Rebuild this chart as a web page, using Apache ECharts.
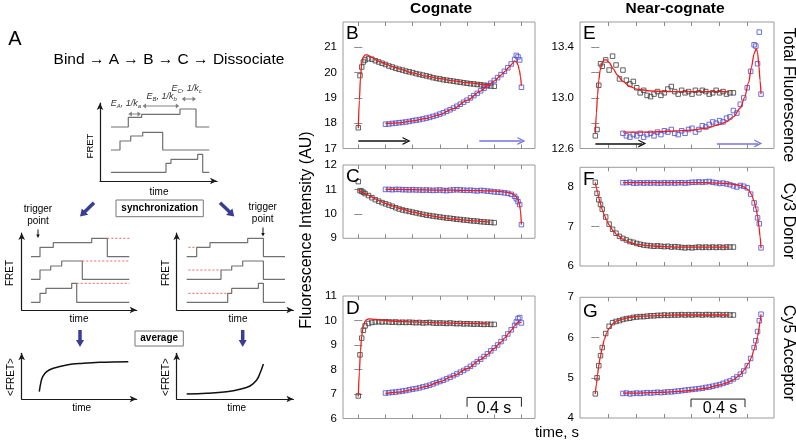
<!DOCTYPE html>
<html><head><meta charset="utf-8">
<script src="https://cdn.jsdelivr.net/npm/echarts@6/dist/echarts.min.js"></script>
<style>html,body{margin:0;padding:0;background:#fff}#c{width:796px;height:448px}</style>
</head><body><div id="c"></div>
<script>
// ---------- time bases (s) ----------
const tBlack = [0,0.0125,0.025,0.0375,0.05,0.075,0.1,0.125,0.15,0.175,0.2,0.225,0.25,0.275,0.3,0.325,0.35,0.375,0.4,0.425,0.45,0.475,0.5,0.525,0.55,0.575,0.6,0.625,0.65,0.675,0.7,0.725,0.75,0.775,0.8,0.825,0.85,0.875,0.9,0.925,0.95,0.975,1.0];
const tBlue = [0.2,0.225,0.25,0.275,0.3,0.325,0.35,0.375,0.4,0.425,0.45,0.475,0.5,0.525,0.55,0.575,0.6,0.625,0.65,0.675,0.7,0.725,0.75,0.775,0.8,0.825,0.85,0.875,0.9,0.925,0.95,0.975,1.0,1.025,1.05,1.075,1.1,1.125,1.15,1.1625,1.175,1.1875,1.2];
const fitTBlack = [0,0.008,0.016,0.025,0.035,0.05,0.065,0.08,0.1,0.13,0.16,0.2,0.25,0.3,0.4,0.5,0.6,0.7,0.8,0.9,0.97];
const fitTBlue = [0.2,0.3,0.4,0.5,0.6,0.7,0.8,0.9,0.95,1.0,1.05,1.08,1.11,1.13,1.15,1.165,1.175,1.185,1.193,1.2];

// ---------- B: cognate total fluorescence ----------
const bBlack = [17.82,19.88,20.22,20.42,20.50,20.55,20.53,20.47,20.42,20.37,20.32,20.26,20.22,20.17,20.13,20.10,20.06,20.03,20.00,19.96,19.93,19.90,19.87,19.84,19.80,19.77,19.75,19.72,19.70,19.68,19.66,19.64,19.62,19.60,19.58,19.56,19.55,19.53,19.52,19.50,19.49,19.47,19.46];
const bBlue = [17.96,17.97,17.99,18.00,18.02,18.03,18.05,18.07,18.10,18.12,18.14,18.17,18.20,18.23,18.27,18.31,18.36,18.41,18.47,18.53,18.60,18.67,18.75,18.83,18.91,19.00,19.09,19.18,19.28,19.38,19.48,19.58,19.69,19.80,19.92,20.05,20.19,20.34,20.52,20.68,20.62,20.50,19.42];
const bFitBlack = [17.8,18.9,19.8,20.35,20.6,20.7,20.7,20.66,20.6,20.5,20.43,20.34,20.24,20.15,19.99,19.86,19.76,19.67,19.6,19.54,19.51];
const bFitBlue = [17.98,18.01,18.09,18.19,18.34,18.58,18.9,19.27,19.47,19.67,19.9,20.05,20.22,20.34,20.46,20.42,20.3,20.1,19.85,19.48];
// ---------- C: cognate Cy3 donor ----------
const cBlack = [11.32,10.95,10.93,10.88,10.83,10.75,10.66,10.58,10.52,10.46,10.41,10.36,10.31,10.25,10.20,10.16,10.13,10.10,10.07,10.04,10.01,9.98,9.95,9.93,9.91,9.89,9.87,9.85,9.83,9.82,9.80,9.78,9.77,9.75,9.74,9.72,9.71,9.70,9.68,9.67,9.66,9.65,9.64];
const cBlue = [11.00,11.00,10.99,11.00,11.00,10.99,10.99,10.98,10.99,10.98,10.98,10.97,10.98,10.97,10.96,10.97,10.98,10.96,10.95,10.97,10.98,10.99,10.98,10.97,10.96,10.97,10.95,10.94,10.96,10.95,10.93,10.92,10.90,10.89,10.88,10.86,10.84,10.80,10.72,10.62,10.50,10.38,9.56];
const cFitBlack = [10.97,10.94,10.92,10.9,10.87,10.83,10.79,10.75,10.69,10.6,10.52,10.43,10.33,10.23,10.07,9.95,9.86,9.79,9.73,9.69,9.66];
const cFitBlue = [11.0,11.0,10.99,10.98,10.97,10.97,10.96,10.95,10.94,10.93,10.91,10.89,10.86,10.83,10.77,10.68,10.57,10.4,10.15,9.56];
// ---------- D: cognate Cy5 acceptor ----------
const dBlack = [6.92,8.60,9.28,9.60,9.78,9.88,9.92,9.94,9.95,9.94,9.95,9.94,9.93,9.94,9.92,9.93,9.92,9.93,9.92,9.91,9.92,9.90,9.91,9.92,9.90,9.89,9.90,9.89,9.88,9.90,9.88,9.87,9.88,9.86,9.87,9.86,9.85,9.86,9.85,9.84,9.85,9.84,9.84];
const dBlue = [7.04,7.05,7.07,7.08,7.10,7.12,7.14,7.17,7.20,7.22,7.25,7.29,7.32,7.36,7.41,7.46,7.51,7.56,7.62,7.68,7.75,7.82,7.89,7.96,8.04,8.13,8.22,8.32,8.42,8.53,8.64,8.76,8.88,9.00,9.14,9.29,9.45,9.62,9.80,9.94,10.08,10.12,9.90];
const dFitBlack = [6.9,7.9,8.75,9.35,9.72,9.97,10.05,10.07,10.06,10.04,10.02,10.0,9.98,9.96,9.94,9.92,9.9,9.89,9.88,9.87,9.86];
const dFitBlue = [7.02,7.08,7.18,7.31,7.5,7.74,8.03,8.4,8.62,8.86,9.12,9.3,9.5,9.63,9.78,9.88,9.93,9.94,9.92,9.9];
// ---------- E: near-cognate total fluorescence ----------
const eBlack = [12.70,12.75,13.10,13.27,13.25,13.30,13.22,13.33,13.26,13.15,13.22,13.14,13.11,13.13,13.08,13.04,13.06,13.02,13.01,13.03,13.05,13.02,13.04,13.07,13.09,13.05,13.03,13.06,13.04,13.05,13.03,13.06,13.04,13.06,13.05,13.03,13.04,13.06,13.04,13.05,13.03,13.04,13.04];
const eBlue = [12.72,12.70,12.69,12.71,12.70,12.72,12.69,12.71,12.72,12.70,12.73,12.71,12.74,12.73,12.75,12.72,12.71,12.74,12.72,12.75,12.76,12.73,12.75,12.78,12.77,12.79,12.81,12.80,12.82,12.81,12.84,12.85,12.90,12.88,12.95,13.00,13.08,13.21,13.42,13.41,13.27,13.52,13.03];
const eFitBlack = [12.72,12.88,13.02,13.14,13.22,13.28,13.3,13.3,13.28,13.23,13.18,13.13,13.09,13.07,13.055,13.05,13.05,13.05,13.05,13.05,13.05];
const eFitBlue = [12.73,12.73,12.73,12.735,12.74,12.745,12.76,12.79,12.81,12.85,12.92,13.0,13.12,13.24,13.35,13.39,13.36,13.25,13.14,13.03];
// ---------- F: near-cognate Cy3 donor ----------
const fBlack = [8.12,7.84,7.68,7.56,7.44,7.24,7.06,6.93,6.83,6.75,6.70,6.66,6.62,6.60,6.57,6.55,6.53,6.52,6.51,6.50,6.51,6.50,6.49,6.50,6.48,6.49,6.48,6.47,6.46,6.47,6.46,6.47,6.48,6.47,6.48,6.47,6.48,6.47,6.48,6.47,6.48,6.48,6.48];
const fBlue = [8.11,8.11,8.12,8.10,8.10,8.11,8.10,8.11,8.10,8.11,8.10,8.10,8.11,8.10,8.11,8.10,8.11,8.11,8.10,8.11,8.12,8.12,8.13,8.12,8.13,8.14,8.12,8.11,8.09,8.10,8.08,8.06,8.03,8.00,8.04,8.02,7.98,7.82,7.60,7.44,7.22,7.07,6.46];
const fFitBlack = [8.12,7.98,7.86,7.73,7.6,7.43,7.29,7.17,7.04,6.89,6.78,6.68,6.6,6.55,6.51,6.49,6.48,6.48,6.48,6.48,6.48];
const fFitBlue = [8.11,8.11,8.11,8.11,8.11,8.11,8.11,8.1,8.09,8.07,8.04,8.0,7.92,7.82,7.64,7.44,7.26,7.0,6.75,6.45];
// ---------- G: near-cognate Cy5 acceptor ----------
const gBlack = [4.60,5.00,5.30,5.55,5.75,6.10,6.28,6.37,6.40,6.42,6.45,6.47,6.48,6.50,6.51,6.52,6.52,6.53,6.54,6.54,6.55,6.55,6.56,6.55,6.56,6.56,6.56,6.57,6.56,6.57,6.56,6.57,6.57,6.56,6.57,6.57,6.56,6.57,6.57,6.56,6.57,6.56,6.56];
const gBlue = [4.61,4.62,4.60,4.61,4.62,4.61,4.62,4.63,4.62,4.63,4.64,4.63,4.64,4.65,4.65,4.66,4.67,4.68,4.69,4.70,4.71,4.72,4.73,4.74,4.76,4.77,4.79,4.81,4.83,4.86,4.89,4.92,4.97,5.02,5.09,5.17,5.30,5.48,5.75,5.92,6.15,6.42,6.58];
const gFitBlack = [4.6,4.85,5.08,5.3,5.5,5.75,5.95,6.1,6.23,6.35,6.42,6.46,6.5,6.52,6.54,6.55,6.56,6.56,6.56,6.56,6.56];
const gFitBlue = [4.62,4.62,4.63,4.64,4.66,4.69,4.74,4.82,4.87,4.95,5.08,5.2,5.36,5.5,5.7,5.88,6.03,6.22,6.4,6.58];

// ---------- tick values ----------
const cogTicks = [0,0.2,0.4,0.6,0.8,1.0,1.2];
const nearTicks = [0.097,0.297,0.497,0.697,0.897,1.097];
const bYLabels = [17,18,19,20,21], cYLabels = [9,10,11,12], dYLabels = [6,7,8,9,10,11];
const eYLabels = [12.6,13.0,13.4], fYLabels = [6,7,8], gYLabels = [4,5,6,7];

// ---------- schematic (panel A) traces, in schematic units ----------
const s0T1x=[11,28.3,28.3,41.7,41.7,80,80,96,96,109.3], s0T1y=[54,54,63.7,63.7,66.7,66.7,72,72,54,54];
const s0T2x=[11,20,20,30.7,30.7,42.7,42.7,62.7,62.7,109.3], s0T2y=[31,31,40,40,45,45,48.7,48.7,31,31];
const s0T3x=[11,66,66,71,71,97.7,97.7,102.7,102.7,109.3], s0T3y=[8.7,8.7,17.7,17.7,21.7,21.7,26.7,26.7,8.7,8.7];
const lvl1=[53.3,53.3,62.7,62.7,67.3,67.3,71.7,71.7,53.3,53.3];
const lvl2=[30.7,30.7,40,40,44,44,49,49,30.7,30.7];
const lvl3=[7.7,7.7,16.7,16.7,21.7,21.7,26.7,26.7,7.7,7.7];
const s1T1x=[9.3,18.3,18.3,31.6,31.6,70,70,85.6,85.6,107.6];
const s1T2x=[9.3,18.3,18.3,29,29,40,40,60.6,60.6,107.6];
const s1T3x=[9.3,18.3,18.3,24.3,24.3,50,50,55,55,107.6];
const s1Red=[[[85.6,71.7],[107.6,71.7]],[[60.6,49],[107.6,49]],[[55,26.7],[107.6,26.7]]];
const s2T1x=[10,20,20,33.3,33.3,71,71,86.7,86.7,108.3];
const s2T2x=[10,44.3,44.3,55,55,66,66,86.7,86.7,108.3];
const s2T3x=[10,51,51,55,55,81.7,81.7,86.7,86.7,108.3];
const s2Red=[[[11.7,62.7],[20,62.7]],[[11.7,40],[44.3,40]],[[11.7,16.7],[51,16.7]]];
const avgRiseX=[17.6,19,21,25,31.6,45,61.6,78.3,106.6], avgRiseY=[7.3,15.7,22.3,27.3,30.7,34,35.7,36.7,37.3];
const avgEndX=[10,30,50,63.3,73.3,80,83.3,86.7], avgEndY=[5,5.7,7.3,9.7,13,19,25.7,35];

// ================= build =================
const FONT = '"Liberation Sans", Arial, Helvetica, sans-serif';
const pair = (xs, ys) => xs.map((x, i) => [x, ys[i]]);
const chev = 'path://M0,10 L6,0 L12,10 L10,10 L6,3.4 L2,10 Z';

const panels = [
  {g:{left:343,top:22,width:192,height:126.5}, xr:[-0.1125,1.3], xt:cogTicks, yr:[17,22], yt:[18,19,20,21], yl:bYLabels, dec:0, bk:bBlack, bl:bBlue, fk:bFitBlack, fl:bFitBlue},
  {g:{left:343,top:165,width:192,height:73.3}, xr:[-0.1125,1.3], xt:cogTicks, yr:[9,12], yt:[10,11], yl:cYLabels, dec:0, bk:cBlack, bl:cBlue, fk:cFitBlack, fl:cFitBlue},
  {g:{left:343,top:296,width:192,height:122.5}, xr:[-0.1125,1.3], xt:cogTicks, yr:[6,11], yt:[7,8,9,10], yl:dYLabels, dec:0, bk:dBlack, bl:dBlue, fk:dFitBlack, fl:dFitBlue},
  {g:{left:580,top:22,width:194,height:126.5}, xr:[-0.111,1.294], xt:nearTicks, yr:[12.6,13.6], yt:[12.8,13.0,13.2,13.4], yl:eYLabels, dec:1, bk:eBlack, bl:eBlue, fk:eFitBlack, fl:eFitBlue},
  {g:{left:580,top:167.3,width:194,height:98.7}, xr:[-0.111,1.294], xt:nearTicks, yr:[6,8.5], yt:[7,8], yl:fYLabels, dec:0, bk:fBlack, bl:fBlue, fk:fFitBlack, fl:fFitBlue},
  {g:{left:580,top:297.3,width:194,height:120.7}, xr:[-0.111,1.294], xt:nearTicks, yr:[4,7], yt:[5,6], yl:gYLabels, dec:0, bk:gBlack, bl:gBlue, fk:gFitBlack, fl:gFitBlue}
];

const grid = [], xAxis = [], yAxis = [], series = [];
const tickStyle = {color:'#8a8a8a', width:1};
panels.forEach((p, i) => {
  grid.push(Object.assign({show:true, borderColor:'#9a9a9a', borderWidth:1, backgroundColor:'transparent'}, p.g));
  ['bottom','top'].forEach(pos => xAxis.push({gridIndex:i, type:'value', position:pos, min:p.xr[0], max:p.xr[1],
    axisLine:{show:false}, axisTick:{show:true, inside:true, length:4, lineStyle:tickStyle, customValues:p.xt},
    axisLabel:{show:false, customValues:p.xt}, splitLine:{show:false}}));
  ['left','right'].forEach(pos => yAxis.push({gridIndex:i, type:'value', position:pos, min:p.yr[0], max:p.yr[1],
    axisLine:{show:false}, axisTick:{show:true, inside:true, length:4, lineStyle:tickStyle, customValues:p.yt},
    axisLabel:{show:pos==='left', customValues:p.yl, margin:6, color:'#000', fontSize:11.5, fontFamily:FONT,
      formatter:v => Number(v).toFixed(p.dec)}, splitLine:{show:false}}));
  const ax = {xAxisIndex:2*i, yAxisIndex:2*i, silent:true};
  series.push(Object.assign({type:'scatter', data:pair(tBlack,p.bk), symbol:'rect', symbolSize:4.5,
    itemStyle:{color:'rgba(0,0,0,0)', borderColor:'#3c3c3c', borderWidth:1}, z:2}, ax));
  series.push(Object.assign({type:'scatter', data:pair(tBlue,p.bl), symbol:'rect', symbolSize:4.5,
    itemStyle:{color:'rgba(0,0,0,0)', borderColor:'#4c4cce', borderWidth:1}, z:2}, ax));
  [p.fk, p.fl].forEach((fv, k) => series.push(Object.assign({type:'line', data:pair(k? fitTBlue: fitTBlack, fv), showSymbol:false,
    smooth:0.3, smoothMonotone:'x', lineStyle:{color:'#ee1d1d', width:1.3}, z:4}, ax)));
});

// direction arrows (B, E) and scale bars (D, G)
function dirArrows(i, y, blackX, blueX){
  [[blackX,'#111'],[blueX,'#7474dc']].forEach(([xx,c]) => series.push({type:'lines', coordinateSystem:'cartesian2d',
    xAxisIndex:2*i, yAxisIndex:2*i, silent:true, symbol:['none',chev], symbolSize:[8,8], z:3,
    lineStyle:{color:c, width:1.6, opacity:1}, data:[{coords:[[xx[0],y],[xx[1],y]]}]}));
}
dirArrows(0, 17.3, [0,0.355], [0.89,1.2]);
dirArrows(3, 12.64, [0,0.34], [0.88,1.18]);
function scaleBar(i, x0, x1, yTop, yBot){
  series.push({type:'line', xAxisIndex:2*i, yAxisIndex:2*i, silent:true, showSymbol:false, z:3,
    lineStyle:{color:'#222', width:1}, data:[[x0,yBot],[x0,yTop],[x1,yTop],[x1,yBot]]});
}
scaleBar(2, 0.8, 1.2, 6.86, 6.48);
scaleBar(5, 0.693, 1.084, 4.47, 4.27);

// ---------- schematic mini plots ----------
const minis = [
  {left:100, top:103, w:117, h:78},
  {left:21.7, top:233, w:115, h:77},
  {left:176.7, top:233, w:116.7, h:77},
  {left:21.7, top:353.3, w:115, h:45.7},
  {left:176.7, top:353.3, w:116.7, h:45.7}
];
const axLine = {show:true, onZero:false, symbol:['none','arrow'], symbolSize:[5,7], lineStyle:{color:'#1a1a1a', width:1.2}};
minis.forEach((m, k) => {
  const gi = 6 + k;
  grid.push({left:m.left, top:m.top, width:m.w, height:m.h, show:false});
  xAxis.push({gridIndex:gi, type:'value', min:0, max:m.w, axisLine:axLine, axisTick:{show:false}, axisLabel:{show:false}, splitLine:{show:false}});
  yAxis.push({gridIndex:gi, type:'value', min:0, max:m.h, axisLine:axLine, axisTick:{show:false}, axisLabel:{show:false}, splitLine:{show:false}});
});
function trace(k, xs, ys, color, width, extra){
  series.push(Object.assign({type:'line', xAxisIndex:12+k, yAxisIndex:12+k, data:pair(xs,ys), showSymbol:false, silent:true,
    lineStyle:{color:color, width:width}, z:3}, extra||{}));
}
trace(0, s0T1x, s0T1y, '#707070', 1.2); trace(0, s0T2x, s0T2y, '#707070', 1.2); trace(0, s0T3x, s0T3y, '#707070', 1.2);
trace(1, s1T1x, lvl1, '#707070', 1.2); trace(1, s1T2x, lvl2, '#707070', 1.2); trace(1, s1T3x, lvl3, '#707070', 1.2);
trace(2, s2T1x, lvl1, '#707070', 1.2); trace(2, s2T2x, lvl2, '#707070', 1.2); trace(2, s2T3x, lvl3, '#707070', 1.2);
s1Red.forEach(seg => series.push({type:'line', xAxisIndex:13, yAxisIndex:13, data:seg, showSymbol:false, silent:true, lineStyle:{color:'#f06060', width:1, type:[2,2]}}));
s2Red.forEach(seg => series.push({type:'line', xAxisIndex:14, yAxisIndex:14, data:seg, showSymbol:false, silent:true, lineStyle:{color:'#f06060', width:1, type:[2,2]}}));
trace(3, avgRiseX, avgRiseY, '#111', 1.5, {smooth:0.4});
trace(4, avgEndX, avgEndY, '#111', 1.5, {smooth:0.4});

// ---------- graphic annotations ----------
function txt(x, y, text, size, o){
  o = o || {};
  return {type:'text', x:x, y:y, rotation:o.rot||0, silent:true, z:10,
    style:{text:text, fill:o.color||'#000', fontSize:size, fontFamily:FONT, fontWeight:o.bold?'bold':'normal',
      fontStyle:o.italic?'italic':'normal', align:o.align||'center', verticalAlign:'middle', lineHeight:o.lh, rich:o.rich}};
}
function arrow(x1, y1, x2, y2, color, w, hl, hw, both){
  const a = Math.atan2(y2-y1, x2-x1), c = Math.cos(a), s = Math.sin(a);
  const head = (px, py, ca, sa) => {
    const bx = px - hl*ca, by = py - hl*sa, nx = -sa*hw/2, ny = ca*hw/2;
    return {type:'polygon', silent:true, z:10, shape:{points:[[px,py],[bx+nx,by+ny],[bx-nx,by-ny]]}, style:{fill:color}};
  };
  const els = [{type:'line', silent:true, z:10, shape:{x1:both? x1+hl*0.7*c : x1, y1:both? y1+hl*0.7*s : y1, x2:x2-hl*0.7*c, y2:y2-hl*0.7*s},
    style:{stroke:color, lineWidth:w}}];
  els.push(head(x2, y2, c, s));
  if (both) els.push(head(x1, y1, -c, -s));
  return els;
}
const R90 = Math.PI/2;
const subRich = {
  m:{fontSize:9, fontStyle:'italic', fontFamily:FONT, fill:'#333', lineHeight:12, verticalAlign:'middle'},
  s:{fontSize:6, fontStyle:'italic', fontFamily:FONT, fill:'#333', lineHeight:12, verticalAlign:'bottom'}
};
const navy = '#3a3e92';
const gfx = [
  txt(15, 39, 'A', 20),
  txt(169, 60, 'Bind \u2192 A \u2192 B \u2192 C \u2192 Dissociate', 15.5),
  txt(126, 103.5, '{m|E}{s|A}{m|, 1/k}{s|a}', 9, {rich:subRich}),
  txt(161.7, 96.5, '{m|E}{s|B}{m|, 1/k}{s|b}', 9, {rich:subRich}),
  txt(186.7, 88, '{m|E}{s|C}{m|, 1/k}{s|c}', 9, {rich:subRich}),
  ...arrow(128.3, 114, 141, 114, '#808080', 1, 3.5, 5, true),
  ...arrow(142.5, 106, 179.3, 106, '#808080', 1, 3.5, 5, true),
  ...arrow(181.7, 99, 196, 99, '#808080', 1, 3.5, 5, true),
  txt(90, 146, 'FRET', 9.5, {rot:R90}),
  txt(159, 192, 'time', 10),
  {type:'rect', silent:true, z:9, shape:{x:116, y:200, width:87.3, height:16.7}, style:{fill:'#fff', stroke:'#777', lineWidth:1}},
  txt(159.7, 208.5, 'synchronization', 10, {bold:true}),
  ...arrow(94, 202.7, 80, 216.5, navy, 3.5, 7, 9),
  ...arrow(220, 202.7, 234.3, 216.5, navy, 3.5, 7, 9),
  txt(38, 215, 'trigger\npoint', 10, {lh:12}),
  txt(262.7, 213, 'trigger\npoint', 10, {lh:12}),
  ...arrow(38, 229.5, 38, 238, '#111', 1, 3.5, 3.5),
  ...arrow(263, 227.5, 263, 236.5, '#111', 1, 3.5, 3.5),
  txt(10, 273, 'FRET', 10, {rot:R90}),
  txt(166.7, 273, 'FRET', 10, {rot:R90}),
  txt(79, 319, 'time', 10),
  txt(238, 319, 'time', 10),
  ...arrow(80, 330, 80, 347, navy, 3.5, 7, 8),
  ...arrow(242.7, 330, 242.7, 347, navy, 3.5, 7, 8),
  {type:'rect', silent:true, z:9, shape:{x:135, y:331, width:48.3, height:15}, style:{fill:'#fff', stroke:'#777', lineWidth:1}},
  txt(159.2, 338.7, 'average', 10, {bold:true}),
  txt(11, 377, '<FRET>', 10, {rot:R90}),
  txt(166.7, 377, '<FRET>', 10, {rot:R90}),
  txt(81.7, 408, 'time', 10),
  txt(236.7, 408, 'time', 10),
  // right-hand figure
  txt(441, 9, 'Cognate', 15.5, {bold:true}),
  txt(675, 9, 'Near-cognate', 15.5, {bold:true}),
  txt(346, 34, 'B', 19, {align:'left'}),
  txt(346, 177, 'C', 19, {align:'left'}),
  txt(346, 309, 'D', 19, {align:'left'}),
  txt(583, 34, 'E', 19, {align:'left'}),
  txt(583, 180, 'F', 19, {align:'left'}),
  txt(583, 312, 'G', 19, {align:'left'}),
  txt(307, 230, 'Fluorescence Intensity (AU)', 16, {rot:R90}),
  txt(557, 433, 'time, s', 15),
  txt(788, 95, 'Total Fluorescence', 16, {rot:-R90}),
  txt(788, 221, 'Cy3 Donor', 16, {rot:-R90}),
  txt(788, 353, 'Cy5 Acceptor', 16, {rot:-R90}),
  txt(494, 408.5, '0.4 s', 16),
  txt(720, 408.5, '0.4 s', 16)
];

const chart = echarts.init(document.getElementById('c'), null, {renderer:'canvas'});
chart.setOption({
  animation:false,
  backgroundColor:'#fff',
  textStyle:{fontFamily:FONT},
  grid:grid, xAxis:xAxis, yAxis:yAxis, series:series,
  graphic:{elements:gfx}
});
</script></body></html>
